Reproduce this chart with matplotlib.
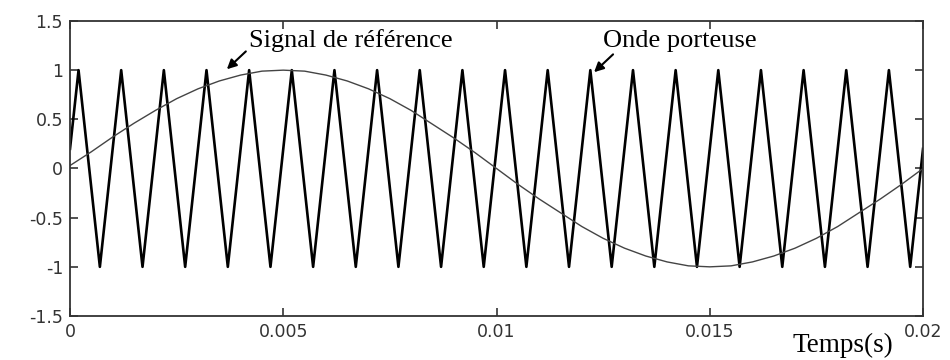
import numpy as np
import matplotlib
matplotlib.use("Agg")
import matplotlib.pyplot as plt

# === DATA ====================================================================
# carrier (triangle) vertices, in ms
carrier_t_ms = [0.0, 0.2, 0.7, 1.2, 1.7, 2.2, 2.7, 3.2, 3.7, 4.2, 4.7, 5.2, 5.7,
                6.2, 6.7, 7.2, 7.7, 8.2, 8.7, 9.2, 9.7, 10.2, 10.7, 11.2, 11.7,
                12.2, 12.7, 13.2, 13.7, 14.2, 14.7, 15.2, 15.7, 16.2, 16.7,
                17.2, 17.7, 18.2, 18.7, 19.2, 19.7, 20.0]
carrier_v = [0.2] + [1, -1] * 20 + [0.2]

# reference signal, read every 0.5 ms
ref_t_ms = [k * 0.5 for k in range(41)]
ref_v = [0.03, 0.17, 0.32, 0.46, 0.59, 0.71, 0.81, 0.89, 0.95, 0.99, 1.0,
         0.99, 0.95, 0.89, 0.81, 0.71, 0.59, 0.45, 0.31, 0.16, 0.0,
         -0.16, -0.31, -0.45, -0.59, -0.71, -0.81, -0.89, -0.95, -0.99, -1.0,
         -0.99, -0.95, -0.89, -0.81, -0.71, -0.59, -0.45, -0.31, -0.16, 0.0]

xticks = [0, 0.005, 0.01, 0.015, 0.02]
xtick_labels = ["0", "0.005", "0.01", "0.015", "0.02"]
yticks = [-1.5, -1, -0.5, 0, 0.5, 1, 1.5]
ytick_labels = ["-1.5", "-1", "-0.5", "0", "0.5", "1", "1.5"]

# === PLOT ====================================================================
plt.rcParams["axes.unicode_minus"] = False

fig = plt.figure(figsize=(9.5, 3.6), dpi=100)
ax = fig.add_axes([0.0737, 0.1222, 0.8979, 0.8195])

ax.plot(np.array(carrier_t_ms) / 1000, carrier_v, color="black", lw=1.9)
ax.plot(np.array(ref_t_ms) / 1000, ref_v, color="#444444", lw=1.0)

ax.set_xlim(0, 0.02)
ax.set_ylim(-1.5, 1.5)
ax.set_xticks(xticks)
ax.set_xticklabels(xtick_labels)
ax.set_yticks(yticks)
ax.set_yticklabels(ytick_labels)
ax.tick_params(direction="in", length=6, width=1.2, top=True, right=True,
               labelsize=12.5, labelcolor="#333333", color="#333333", pad=5)
for s in ax.spines.values():
    s.set_linewidth(1.3)
    s.set_color("#333333")

serif = "Liberation Serif"
arrow = dict(arrowstyle="-|>", color="black", lw=1.5, mutation_scale=14)
ax.annotate("", xy=(0.00363, 0.99), xytext=(0.00417, 1.21), arrowprops=arrow)
ax.text(0.00420, 1.235, "Signal de référence", fontsize=19, family=serif,
        ha="left", va="baseline")
ax.annotate("", xy=(0.01224, 0.96), xytext=(0.01278, 1.18), arrowprops=arrow)
ax.text(0.01250, 1.235, "Onde porteuse", fontsize=19, family=serif,
        ha="left", va="baseline")

ax.text(0.965, -0.122, "Temps(s)", transform=ax.transAxes, fontsize=19.5,
        family=serif, ha="right", va="baseline")

fig.savefig("out.png", dpi=100)
